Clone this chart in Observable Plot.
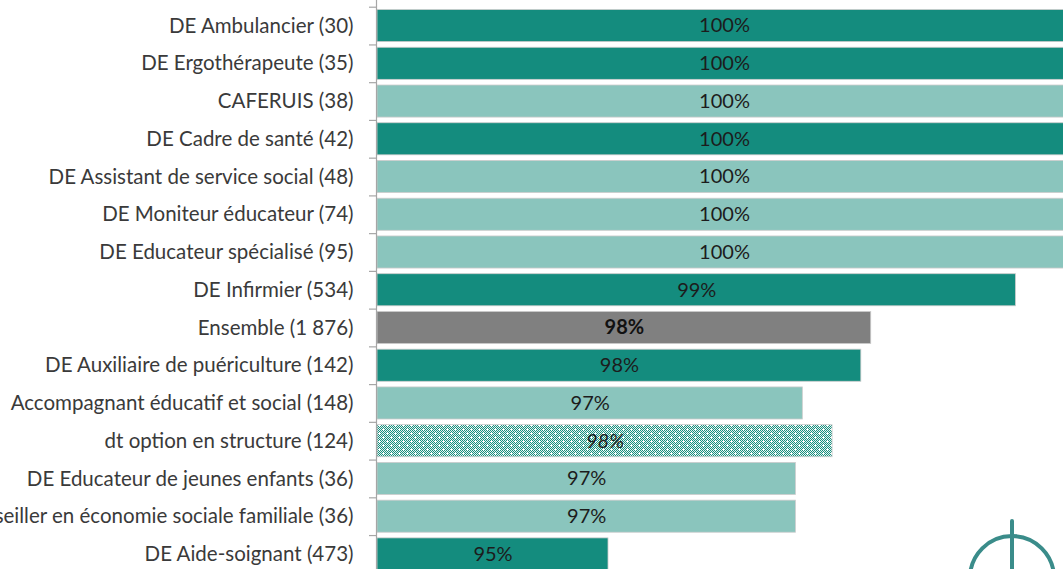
<!DOCTYPE html>
<html>
<head>
<meta charset="utf-8">
<script src="https://cdn.jsdelivr.net/npm/d3@7"></script>
<script src="https://cdn.jsdelivr.net/npm/@observablehq/plot@0.6"></script>
<style>
  html, body { margin: 0; padding: 0; background: #fff; overflow: hidden; width: 1063px; height: 569px; }
  #chart { position: relative; width: 1063px; height: 569px; }
  #logo { position: absolute; left: 0; top: 0; pointer-events: none; }
  .italic-label text { font-style: italic; }
</style>
</head>
<body>
<svg width="0" height="0" style="position:absolute">
  <defs>
    <pattern id="dots" width="8" height="8" patternUnits="userSpaceOnUse"></pattern>
  </defs>
</svg>
<div id="chart"></div>
<script>
// ---- data ----
const categories = [
  "DE Ambulancier (30)",
  "DE Ergothérapeute (35)",
  "CAFERUIS (38)",
  "DE Cadre de santé (42)",
  "DE Assistant de service social (48)",
  "DE Moniteur éducateur (74)",
  "DE Educateur spécialisé (95)",
  "DE Infirmier (534)",
  "Ensemble (1 876)",
  "DE Auxiliaire de puériculture (142)",
  "Accompagnant éducatif et social (148)",
  "dt option en structure (124)",
  "DE Educateur de jeunes enfants (36)",
  "Conseiller en économie sociale familiale (36)",
  "DE Aide-soignant (473)"
];
const values = [100, 100, 100, 100, 100, 100, 100, 99.44, 97.98, 97.88, 97.29, 97.59, 97.22, 97.22, 95.33];
const valueLabels = ["100%", "100%", "100%", "100%", "100%", "100%", "100%", "99%", "98%", "98%", "97%", "98%", "97%", "97%", "95%"];
const groups = ["sante", "sante", "social", "sante", "social", "social", "social", "sante", "ensemble", "sante", "social", "option", "social", "social", "sante"];

const groupDomain = ["sante", "social", "ensemble", "option"];
const groupColors = ["#148c7e", "#8ac5bd", "#808080", "url(#dots)"];

// ---- pattern for the "option" bar ----
const pat = document.getElementById("dots");
const ns = "http://www.w3.org/2000/svg";
function r(x, y, w, h, fill) {
  const e = document.createElementNS(ns, "rect");
  e.setAttribute("x", x); e.setAttribute("y", y);
  e.setAttribute("width", w); e.setAttribute("height", h);
  e.setAttribute("fill", fill);
  pat.appendChild(e);
}
r(0, 0, 8, 8, "#e6f3f1");
for (let i = 0; i < 8; i++) for (let j = 0; j < 8; j++) if ((i + j) % 2 === 0) r(i, j, 1, 1, "#17907f");
r(3, 0, 1, 3, "#ffffff"); r(2, 1, 3, 1, "#ffffff");
r(7, 4, 1, 3, "#ffffff"); r(6, 5, 3, 1, "#ffffff");

const data = categories.map((c, i) => ({cat: categories[i], value: values[i], label: valueLabels[i], group: groups[i]}));

const x0 = 93;
const yRange = [6.7, 572.8];
const step = (yRange[1] - yRange[0]) / categories.length;
const font = "Lato, 'Open Sans', sans-serif";

const chart = Plot.plot({
  width: 1063,
  height: 569,
  marginLeft: 377,
  marginRight: 0,
  marginTop: 0,
  marginBottom: 0,
  style: {fontFamily: font, background: "transparent", overflow: "hidden"},
  x: {domain: [x0, 100], range: [377, 1071], axis: null},
  y: {domain: categories, range: yRange, paddingInner: 0.15, paddingOuter: 0.075, round: false, axis: null},
  color: {domain: groupDomain, range: groupColors},
  marks: [
    Plot.barX(data, {x1: x0, x2: "value", y: "cat", fill: "group", stroke: "#cccccc", strokeWidth: 0.8}),
    Plot.ruleX([x0], {stroke: "#a6a6a6", strokeWidth: 1.2, dx: -1}),
    Plot.axisY({tickSize: 7, tickFormat: () => "", dy: -step / 2, stroke: "#a6a6a6", strokeWidth: 1.2, dx: -1, label: null}),
    Plot.axisY({tickSize: 0, tickPadding: 24, fontSize: 20.5, fill: "#3a3a3a", label: null}),
    Plot.text(data.filter(d => d.group === "sante" || d.group === "social"), {
      x: d => (x0 + d.value) / 2, y: "cat", text: "label", fill: "#1c1c1c", fontSize: 20
    }),
    Plot.text(data.filter(d => d.group === "ensemble"), {
      x: d => (x0 + d.value) / 2, y: "cat", text: "label", fill: "#111111", fontSize: 20, fontWeight: "bold"
    }),
    Plot.text(data.filter(d => d.group === "option"), {
      x: d => (x0 + d.value) / 2, y: "cat", text: "label", fill: "#1c1c1c", fontSize: 20, fontStyle: "italic", className: "italic-label"
    })
  ]
});
chart.style.maxWidth = "none";
document.getElementById("chart").appendChild(chart);

// decorative logo (bottom right corner)
const logo = document.createElementNS(ns, "svg");
logo.setAttribute("id", "logo");
logo.setAttribute("width", 1063);
logo.setAttribute("height", 569);
logo.innerHTML = '<circle cx="1012" cy="578" r="42" fill="none" stroke="#3a8c8a" stroke-width="4"/>' +
  '<line x1="1012" y1="521" x2="1012" y2="569" stroke="#3a8c8a" stroke-width="4" stroke-linecap="round"/>';
document.getElementById("chart").appendChild(logo);
</script>
</body>
</html>
